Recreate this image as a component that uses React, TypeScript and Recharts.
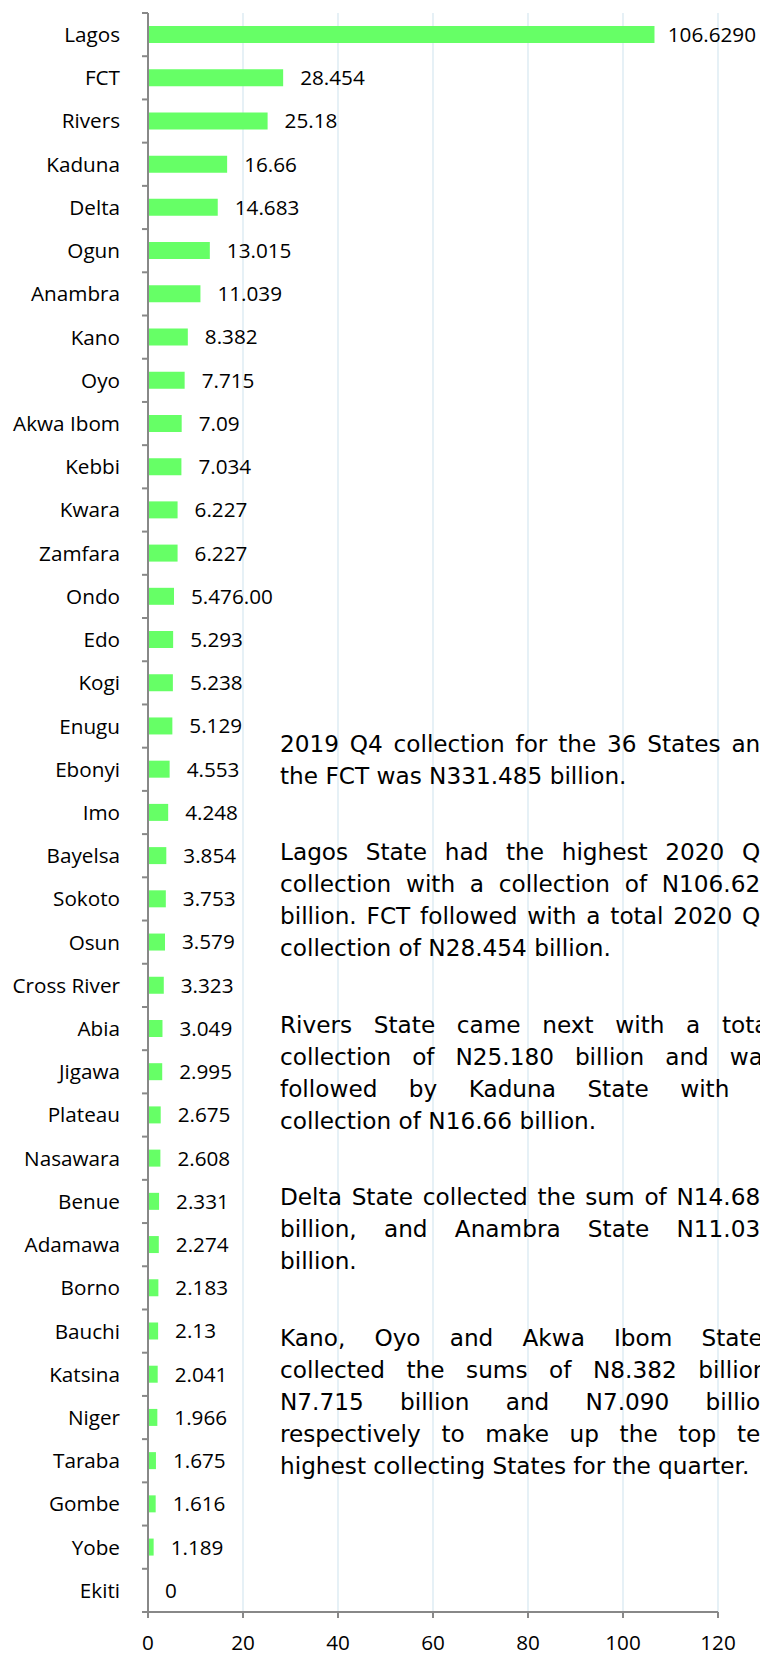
import React from 'react';
import { BarChart, Bar, XAxis, YAxis, CartesianGrid, LabelList } from 'recharts';

// ---------- data ----------
const states = [
  'Lagos', 'FCT', 'Rivers', 'Kaduna', 'Delta', 'Ogun', 'Anambra', 'Kano', 'Oyo', 'Akwa Ibom',
  'Kebbi', 'Kwara', 'Zamfara', 'Ondo', 'Edo', 'Kogi', 'Enugu', 'Ebonyi', 'Imo', 'Bayelsa',
  'Sokoto', 'Osun', 'Cross River', 'Abia', 'Jigawa', 'Plateau', 'Nasawara', 'Benue', 'Adamawa', 'Borno',
  'Bauchi', 'Katsina', 'Niger', 'Taraba', 'Gombe', 'Yobe', 'Ekiti',
];

const values = [
  106.629, 28.454, 25.18, 16.66, 14.683, 13.015, 11.039, 8.382, 7.715, 7.09,
  7.034, 6.227, 6.227, 5.476, 5.293, 5.238, 5.129, 4.553, 4.248, 3.854,
  3.753, 3.579, 3.323, 3.049, 2.995, 2.675, 2.608, 2.331, 2.274, 2.183,
  2.13, 2.041, 1.966, 1.675, 1.616, 1.189, 0,
];

const valueLabels = [
  '106.6290', '28.454', '25.18', '16.66', '14.683', '13.015', '11.039', '8.382', '7.715', '7.09',
  '7.034', '6.227', '6.227', '5.476.00', '5.293', '5.238', '5.129', '4.553', '4.248', '3.854',
  '3.753', '3.579', '3.323', '3.049', '2.995', '2.675', '2.608', '2.331', '2.274', '2.183',
  '2.13', '2.041', '1.966', '1.675', '1.616', '1.189', '0',
];

const xTicks = [0, 20, 40, 60, 80, 100, 120];

// each paragraph: its lines; the last line of each paragraph is not justified
const paragraphs = [
  [
    '2019 Q4 collection for the 36 States and',
    'the FCT was N331.485 billion.',
  ],
  [
    'Lagos State had the highest 2020 Q4',
    'collection with a collection of N106.629',
    'billion. FCT followed with a total 2020 Q4',
    'collection of N28.454 billion.',
  ],
  [
    'Rivers State came next with a total',
    'collection of N25.180 billion and was',
    'followed by Kaduna State with a',
    'collection of N16.66 billion.',
  ],
  [
    'Delta State collected the sum of N14.683',
    'billion, and Anambra State N11.039',
    'billion.',
  ],
  [
    'Kano, Oyo and Akwa Ibom States',
    'collected the sums of N8.382 billion,',
    'N7.715 billion and N7.090 billion',
    'respectively to make up the top ten',
    'highest collecting States for the quarter.',
  ],
];

const data = states.map((s, i) => ({ state: s, value: values[i], label: valueLabels[i] }));

// ---------- layout / style ----------
const CHART_W = 760;
const CHART_H = 1655;
const MARGIN = { top: 13, right: 42, bottom: 0, left: 0 };
const Y_AXIS_W = 148;
const X_AXIS_H = 43;
const TICK_SIZE = 6;
const Y_TICK_MARGIN = 22;
const BAND = (CHART_H - MARGIN.top - MARGIN.bottom - X_AXIS_H) / states.length;

const AXIS_COLOR = '#888888';
const GRID_COLOR = '#d6e7f0';
const BAR_COLOR = '#66ff66';
const LABEL_FONT = "'Open Sans', sans-serif";
const LABEL_SIZE = 20.7;
const PARA_FONT = "'DejaVu Sans', sans-serif";
const PARA_SIZE = 23.2;
const LABEL_GAP = 17;
const LABEL_MAX_X = 756;

const estimateWidth = (t: string) => {
  let w = 0;
  for (const ch of t) w += ch === '.' ? 0.27 : 0.572;
  return w * LABEL_SIZE;
};

const StateTick = (props: any) => {
  const { x, y, payload, index } = props;
  const lx = Number(x) + Y_TICK_MARGIN;
  const isLast = index === states.length - 1;
  return (
    <g>
      <line x1={lx} x2={lx + TICK_SIZE} y1={y - BAND / 2} y2={y - BAND / 2} stroke={AXIS_COLOR} strokeWidth={2} />
      {isLast && (
        <line x1={lx} x2={lx + TICK_SIZE} y1={y + BAND / 2} y2={y + BAND / 2} stroke={AXIS_COLOR} strokeWidth={2} />
      )}
      <text x={x} y={y} dy="0.36em" textAnchor="end" fontFamily={LABEL_FONT} fontSize={LABEL_SIZE} fill="#000">
        {payload.value}
      </text>
    </g>
  );
};

const ValueLabel = (props: any) => {
  const vb = props.viewBox && props.viewBox.x !== undefined ? props.viewBox : props;
  const x = Number(vb.x);
  const y = Number(vb.y);
  const w = Number(vb.width) || 0;
  const h = Number(vb.height) || 0;
  const text = String(props.value);
  let tx = x + w + LABEL_GAP;
  let anchor: 'start' | 'end' = 'start';
  if (tx + estimateWidth(text) > LABEL_MAX_X) {
    tx = LABEL_MAX_X;
    anchor = 'end';
  }
  return (
    <text x={tx} y={y + h / 2} dy="0.36em" textAnchor={anchor} fontFamily={LABEL_FONT} fontSize={LABEL_SIZE} fill="#000">
      {text}
    </text>
  );
};

const TEXT_LEFT = 280;
const TEXT_TOP = 727.5;
const TEXT_W = 495;
const LINE_H = 32;
const PARA_GAP = 44.5;

const Paragraphs = () => (
  <div
    style={{
      position: 'absolute',
      left: TEXT_LEFT,
      top: TEXT_TOP,
      width: TEXT_W,
      fontFamily: PARA_FONT,
      fontSize: PARA_SIZE,
      lineHeight: `${LINE_H}px`,
      color: '#000',
    }}
  >
    {paragraphs.map((lines, pi) => (
      <div key={pi} style={{ marginBottom: PARA_GAP }}>
        {lines.map((line, li) =>
          li < lines.length - 1 ? (
            <div
              key={li}
              style={{ display: 'flex', justifyContent: 'space-between', height: LINE_H, whiteSpace: 'nowrap' }}
            >
              {line.split(' ').map((w, wi) => (
                <span key={wi}>{w}</span>
              ))}
            </div>
          ) : (
            <div key={li} style={{ height: LINE_H, whiteSpace: 'nowrap' }}>
              {line}
            </div>
          )
        )}
      </div>
    ))}
  </div>
);

export default function App() {
  return (
    <div
      style={{
        position: 'fixed',
        left: 0,
        top: 0,
        width: CHART_W,
        height: CHART_H,
        overflow: 'hidden',
        background: '#fff',
      }}
    >
      <div style={{ position: 'absolute', left: 0, top: 0 }}>
        <BarChart width={CHART_W} height={CHART_H} data={data} layout="vertical" margin={MARGIN}>
          <CartesianGrid horizontal={false} vertical stroke={GRID_COLOR} strokeWidth={1.2} />
          <XAxis
            type="number"
            domain={[0, 120]}
            ticks={xTicks}
            interval={0}
            height={X_AXIS_H}
            axisLine={{ stroke: AXIS_COLOR, strokeWidth: 2 }}
            tickLine={{ stroke: AXIS_COLOR, strokeWidth: 2 }}
            tickSize={TICK_SIZE}
            tickMargin={17}
            tick={{ fontFamily: LABEL_FONT, fontSize: LABEL_SIZE, fill: '#000' }}
          />
          <YAxis
            type="category"
            dataKey="state"
            width={Y_AXIS_W}
            interval={0}
            axisLine={{ stroke: AXIS_COLOR, strokeWidth: 2 }}
            tickLine={false}
            tickSize={TICK_SIZE}
            tickMargin={Y_TICK_MARGIN}
            tick={<StateTick />}
          />
          <Bar dataKey="value" fill={BAR_COLOR} barSize={17} minPointSize={0.01} isAnimationActive={false}>
            <LabelList dataKey="label" content={<ValueLabel />} />
          </Bar>
        </BarChart>
      </div>
      <Paragraphs />
    </div>
  );
}
